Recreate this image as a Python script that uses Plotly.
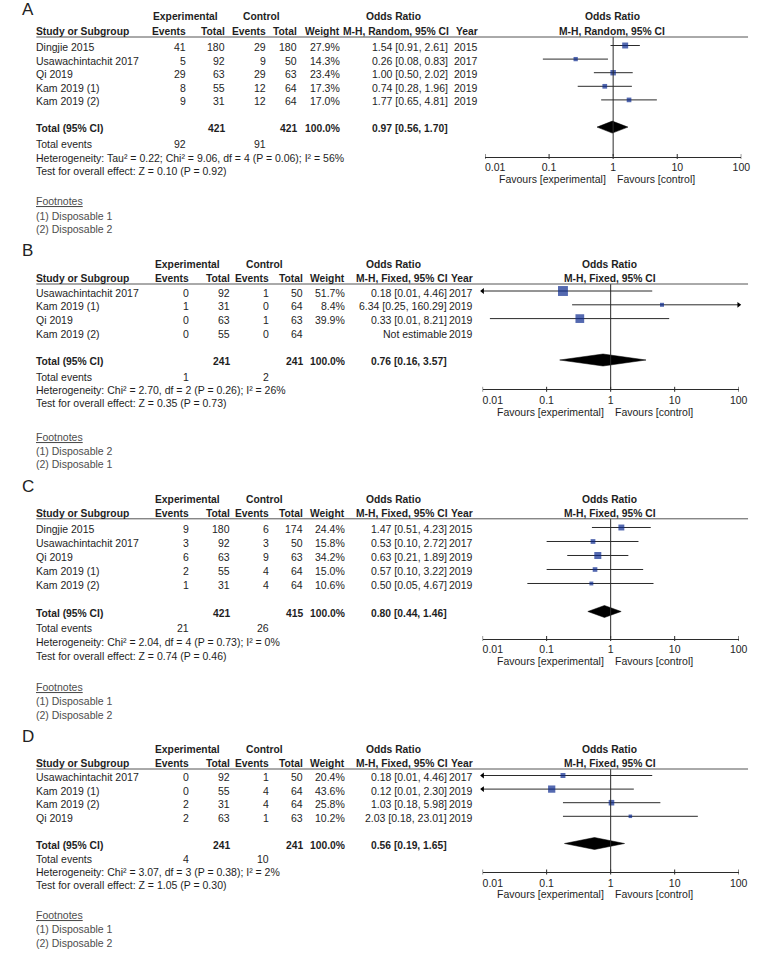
import plotly.graph_objects as go

W, H = 758, 958
FONT = "Liberation Sans, Arial, Helvetica, sans-serif"
TXT = "#1e1e1e"
FOOT = "#4d4d4d"
BLUE = "#0b2a8f"
LINE = "#2b2b2b"

# ---------------- data ----------------
tick_vals = [0.01, 0.1, 1, 10, 100]
tick_text = ["0.01", "0.1", "1", "10", "100"]
favours_left = "Favours [experimental]"
favours_right = "Favours [control]"

# Panel A
studies_A = ["Dingjie 2015", "Usawachintachit 2017", "Qi 2019", "Kam 2019 (1)", "Kam 2019 (2)"]
exp_events_A = [41, 5, 29, 8, 9]
exp_total_A = [180, 92, 63, 55, 31]
ctl_events_A = [29, 9, 29, 12, 12]
ctl_total_A = [180, 50, 63, 64, 64]
weight_A = [27.9, 14.3, 23.4, 17.3, 17.0]
or_A = [1.54, 0.26, 1.00, 0.74, 1.77]
lo_A = [0.91, 0.08, 0.50, 0.28, 0.65]
hi_A = [2.61, 0.83, 2.02, 1.96, 4.81]
year_A = [2015, 2017, 2019, 2019, 2019]
total_A = [421, 421, 100.0, 0.97, 0.56, 1.70, 92, 91]
method_A = "M-H, Random, 95% CI"
het_A = "Heterogeneity: Tau² = 0.22; Chi² = 9.06, df = 4 (P = 0.06); I² = 56%"
test_A = "Test for overall effect: Z = 0.10 (P = 0.92)"
notes_A = ["(1) Disposable 1", "(2) Disposable 2"]

# Panel B
studies_B = ["Usawachintachit 2017", "Kam 2019 (1)", "Qi 2019", "Kam 2019 (2)"]
exp_events_B = [0, 1, 0, 0]
exp_total_B = [92, 31, 63, 55]
ctl_events_B = [1, 0, 1, 0]
ctl_total_B = [50, 64, 63, 64]
weight_B = [51.7, 8.4, 39.9, None]
or_B = [0.18, 6.34, 0.33, None]
lo_B = [0.007, 0.25, 0.013, None]
hi_B = [4.46, 160.29, 8.21, None]
year_B = [2017, 2019, 2019, 2019]
total_B = [241, 241, 100.0, 0.76, 0.16, 3.57, 1, 2]
method_B = "M-H, Fixed, 95% CI"
het_B = "Heterogeneity: Chi² = 2.70, df = 2 (P = 0.26); I² = 26%"
test_B = "Test for overall effect: Z = 0.35 (P = 0.73)"
notes_B = ["(1) Disposable 2", "(2) Disposable 1"]

# Panel C
studies_C = ["Dingjie 2015", "Usawachintachit 2017", "Qi 2019", "Kam 2019 (1)", "Kam 2019 (2)"]
exp_events_C = [9, 3, 6, 2, 1]
exp_total_C = [180, 92, 63, 55, 31]
ctl_events_C = [6, 3, 9, 4, 4]
ctl_total_C = [174, 50, 63, 64, 64]
weight_C = [24.4, 15.8, 34.2, 15.0, 10.6]
or_C = [1.47, 0.53, 0.63, 0.57, 0.50]
lo_C = [0.51, 0.10, 0.21, 0.10, 0.05]
hi_C = [4.23, 2.72, 1.89, 3.22, 4.67]
year_C = [2015, 2017, 2019, 2019, 2019]
total_C = [421, 415, 100.0, 0.80, 0.44, 1.46, 21, 26]
method_C = "M-H, Fixed, 95% CI"
het_C = "Heterogeneity: Chi² = 2.04, df = 4 (P = 0.73); I² = 0%"
test_C = "Test for overall effect: Z = 0.74 (P = 0.46)"
notes_C = ["(1) Disposable 1", "(2) Disposable 2"]

# Panel D
studies_D = ["Usawachintachit 2017", "Kam 2019 (1)", "Kam 2019 (2)", "Qi 2019"]
exp_events_D = [0, 0, 2, 2]
exp_total_D = [92, 55, 31, 63]
ctl_events_D = [1, 4, 4, 1]
ctl_total_D = [50, 64, 64, 63]
weight_D = [20.4, 43.6, 25.8, 10.2]
or_D = [0.18, 0.12, 1.03, 2.03]
lo_D = [0.007, 0.006, 0.18, 0.18]
hi_D = [4.46, 2.30, 5.98, 23.01]
year_D = [2017, 2019, 2019, 2019]
total_D = [241, 241, 100.0, 0.56, 0.19, 1.65, 4, 10]
method_D = "M-H, Fixed, 95% CI"
het_D = "Heterogeneity: Chi² = 3.07, df = 3 (P = 0.38); I² = 2%"
test_D = "Test for overall effect: Z = 1.05 (P = 0.30)"
notes_D = ["(1) Disposable 1", "(2) Disposable 2"]

# ---------------- layout (pixel positions) ----------------
COLS_A = dict(ev_e=172.5, tot_e=213.5, ev_c=256, tot_c=288.5, wt=332.5, orc=445, yr=476.5,
              exp=172, ctl=251, orh=388.5)
COLS_B = dict(ev_e=175.5, tot_e=218.3, ev_c=258.5, tot_c=294.3, wt=338.3, orc=443.5, yr=471.5,
              exp=174, ctl=254, orh=388.5)

panels = [
    dict(letter="A", studies=studies_A, ee=exp_events_A, et=exp_total_A, ce=ctl_events_A, ct=ctl_total_A,
         wt=weight_A, orr=or_A, lo=lo_A, hi=hi_A, yr=year_A, tot=total_A, method=method_A,
         het=het_A, test=test_A, notes=notes_A,
         P=dict(letter=9, h1=17, h2=31.5, hline=37, r0=45.5, s=13.6, te=144.3, het=157.7, test=171,
                fn=201, f1=215.7, f2=229, axis=156.5, fx0=483.5, fx1=750, k=1.13, cols=COLS_A)),
    dict(letter="B", studies=studies_B, ee=exp_events_B, et=exp_total_B, ce=ctl_events_B, ct=ctl_total_B,
         wt=weight_B, orr=or_B, lo=lo_B, hi=hi_B, yr=year_B, tot=total_B, method=method_B,
         het=het_B, test=test_B, notes=notes_B,
         P=dict(letter=250, h1=264, h2=278.3, hline=284, r0=291, s=13.8, te=376.7, het=390, test=403.3,
                fn=436.7, f1=450.7, f2=464, axis=389.3, fx0=481, fx1=747.3, k=1.38, cols=COLS_B)),
    dict(letter="C", studies=studies_C, ee=exp_events_C, et=exp_total_C, ce=ctl_events_C, ct=ctl_total_C,
         wt=weight_C, orr=or_C, lo=lo_C, hi=hi_C, yr=year_C, tot=total_C, method=method_C,
         het=het_C, test=test_C, notes=notes_C,
         P=dict(letter=486, h1=499.3, h2=513.3, hline=518.8, r0=527.5, s=14, te=628.3, het=641.7, test=656,
                fn=687.3, f1=701, f2=714.5, axis=638.5, fx0=481, fx1=747.3, k=1.2, cols=COLS_B)),
    dict(letter="D", studies=studies_D, ee=exp_events_D, et=exp_total_D, ce=ctl_events_D, ct=ctl_total_D,
         wt=weight_D, orr=or_D, lo=lo_D, hi=hi_D, yr=year_D, tot=total_D, method=method_D,
         het=het_D, test=test_D, notes=notes_D,
         P=dict(letter=736, h1=749.5, h2=763.5, hline=769, r0=775.5, s=13.6, te=858.5, het=871.8, test=885.2,
                fn=915, f1=929, f2=942.5, axis=872, fx0=481, fx1=747.3, k=1.1, cols=COLS_B)),
]

XMIN, XMAX = tick_vals[0], tick_vals[-1]
LEFT = 17
TXT_DY = 1.5
HDR = 10.3
NBSP = "\u00a0"
# first tick label is drawn shifted to the right, as in RevMan output
tick_text_drawn = [NBSP * 7 + tick_text[0]] + tick_text[1:]

annotations = []
shapes = []
fig = go.Figure()


def ann(xp, yp, text, anchor="left", size=10.5, color=TXT, bold=False):
    if bold:
        text = "<b>" + text + "</b>"
    annotations.append(dict(
        x=xp / W, y=1 - yp / H, xref="paper", yref="paper", text=text, showarrow=False,
        xanchor=anchor, yanchor="middle", borderpad=0, borderwidth=0,
        font=dict(family=FONT, size=size, color=color)))


def fmt_ci(o, l, h):
    return f"{o:.2f} [{l:.2f}, {h:.2f}]"


layout_axes = {}
for k, pn in enumerate(panels, start=1):
    P = pn["P"]
    c = P["cols"]
    xname = "xaxis" if k == 1 else f"xaxis{k}"
    yname = "yaxis" if k == 1 else f"yaxis{k}"
    xr = "x" if k == 1 else f"x{k}"
    yr_ = "y" if k == 1 else f"y{k}"
    r0, s = P["r0"], P["s"]
    n = len(pn["studies"])
    ypix = lambda i: r0 + i * s

    # ---- axes ----
    layout_axes[xname] = dict(
        type="log", range=[-2, 2], domain=[P["fx0"] / W, P["fx1"] / W], anchor=yr_,
        tickvals=tick_vals, ticktext=tick_text_drawn, ticks="", ticklabelstandoff=1,
        showline=True, linecolor=LINE, linewidth=1, showgrid=False, zeroline=False,
        tickfont=dict(family=FONT, size=10.5, color=TXT), fixedrange=True)
    layout_axes[yname] = dict(
        domain=[1 - P["axis"] / H, 1 - P["hline"] / H],
        range=[(P["axis"] - r0) / s, (P["hline"] - r0) / s], anchor=xr,
        showgrid=False, zeroline=False, showticklabels=False, showline=False, ticks="",
        fixedrange=True)

    # ---- vertical no-effect line ----
    shapes.append(dict(type="line", xref=xr, yref=f"{yr_} domain", x0=1, x1=1, y0=0, y1=1,
                       line=dict(color=LINE, width=1)))
    # ticks crossing the axis line
    for tv in tick_vals:
        shapes.append(dict(type="line", xref=xr, yref="paper", x0=tv, x1=tv,
                           y0=1 - (P["axis"] + 2.5) / H, y1=1 - (P["axis"] - 2.5) / H,
                           line=dict(color=LINE, width=1)))
    # header line
    shapes.append(dict(type="line", xref="paper", yref="paper", x0=LEFT / W, x1=757 / W,
                       y0=1 - P["hline"] / H, y1=1 - P["hline"] / H,
                       line=dict(color="#555555", width=1)))

    # ---- CI lines, squares, arrows ----
    lx, ly = [], []
    sx, sy, ss = [], [], []
    alx, aly, arx, ary = [], [], [], []
    for i in range(n):
        o = pn["orr"][i]
        if o is None:
            continue
        l, h = pn["lo"][i], pn["hi"][i]
        lx += [max(l, XMIN), min(h, XMAX), None]
        ly += [i, i, None]
        sx.append(o)
        sy.append(i)
        ss.append(max(3, P["k"] * pn["wt"][i] ** 0.5))
        if l < XMIN:
            alx.append(XMIN)
            aly.append(i)
        if h > XMAX:
            arx.append(XMAX)
            ary.append(i)
    fig.add_trace(go.Scatter(x=lx, y=ly, mode="lines", line=dict(color=LINE, width=1),
                             xaxis=xr, yaxis=yr_, hoverinfo="skip", showlegend=False))
    fig.add_trace(go.Scatter(x=sx, y=sy, mode="markers",
                             marker=dict(symbol="square", size=ss, color=BLUE, line=dict(width=0)),
                             xaxis=xr, yaxis=yr_, showlegend=False, cliponaxis=False))
    if alx:
        fig.add_trace(go.Scatter(x=alx, y=aly, mode="markers",
                                 marker=dict(symbol="triangle-left", size=5, color="black"),
                                 xaxis=xr, yaxis=yr_, showlegend=False, cliponaxis=False))
    if arx:
        fig.add_trace(go.Scatter(x=arx, y=ary, mode="markers",
                                 marker=dict(symbol="triangle-right", size=5, color="black"),
                                 xaxis=xr, yaxis=yr_, showlegend=False, cliponaxis=False))
    # ---- diamond ----
    t = pn["tot"]
    ti = n + 1
    hh = 6.0 / s
    fig.add_trace(go.Scatter(x=[t[4], t[3], t[5], t[3], t[4]],
                             y=[ti, ti - hh, ti, ti + hh, ti],
                             mode="lines", fill="toself", fillcolor="black",
                             line=dict(color="black", width=0.5),
                             xaxis=xr, yaxis=yr_, showlegend=False, hoverinfo="skip"))

    # ---- text: headers ----
    ann(2, P["letter"], pn["letter"], size=17, color="#222222")
    ann(c["exp"], P["h1"], "Experimental", "center", size=HDR, bold=True)
    ann(c["ctl"], P["h1"], "Control", "center", size=HDR, bold=True)
    ann(c["orh"], P["h1"], "Odds Ratio", "center", size=HDR, bold=True)
    ann(LEFT, P["h2"], "Study or Subgroup", "left", size=HDR, bold=True)
    ann(c["ev_e"], P["h2"], "Events", "right", size=HDR, bold=True)
    ann(c["tot_e"], P["h2"], "Total", "right", size=HDR, bold=True)
    ann(c["ev_c"], P["h2"], "Events", "right", size=HDR, bold=True)
    ann(c["tot_c"], P["h2"], "Total", "right", size=HDR, bold=True)
    ann(c["wt"], P["h2"], "Weight", "right", size=HDR, bold=True)
    ann(c["orc"] + 1.5, P["h2"], pn["method"], "right", size=HDR, bold=True)
    ann(c["yr"], P["h2"], "Year", "right", size=HDR, bold=True)
    xc = P["fx0"] + (P["fx1"] - P["fx0"]) / 2 - 1
    ann(xc, P["h1"], "Odds Ratio", "center", size=HDR, bold=True)
    ann(xc, P["h2"], pn["method"], "center", size=HDR, bold=True)

    # ---- text: study rows ----
    for i in range(n):
        y = ypix(i) + TXT_DY
        ann(LEFT, y, pn["studies"][i], "left")
        ann(c["ev_e"], y, str(pn["ee"][i]), "right")
        ann(c["tot_e"], y, str(pn["et"][i]), "right")
        ann(c["ev_c"], y, str(pn["ce"][i]), "right")
        ann(c["tot_c"], y, str(pn["ct"][i]), "right")
        if pn["wt"][i] is not None:
            ann(c["wt"], y, f"{pn['wt'][i]:.1f}%", "right")
        if pn["orr"][i] is not None:
            ann(c["orc"], y, fmt_ci(pn["orr"][i], pn["lo"][i], pn["hi"][i]), "right")
        else:
            ann(c["orc"], y, "Not estimable", "right")
        ann(c["yr"], y, str(pn["yr"][i]), "right")

    # ---- total rows ----
    y = ypix(ti) + TXT_DY
    ann(LEFT, y, "Total (95% CI)", "left", size=HDR, bold=True)
    ann(c["tot_e"], y, str(t[0]), "right", size=HDR, bold=True)
    ann(c["tot_c"], y, str(t[1]), "right", size=HDR, bold=True)
    ann(c["wt"], y, f"{t[2]:.1f}%", "right", size=HDR, bold=True)
    ann(c["orc"], y, fmt_ci(t[3], t[4], t[5]), "right", size=HDR, bold=True)
    ann(LEFT, P["te"], "Total events", "left")
    ann(c["ev_e"], P["te"], str(t[6]), "right")
    ann(c["ev_c"], P["te"], str(t[7]), "right")
    ann(LEFT, P["het"], pn["het"], "left")
    ann(LEFT, P["test"], pn["test"], "left")
    ann(LEFT, P["fn"], "<u>Footnotes</u>", "left", color=FOOT)
    ann(LEFT, P["f1"], pn["notes"][0], "left", color=FOOT)
    ann(LEFT, P["f2"], pn["notes"][1], "left", color=FOOT)

    # ---- favours ----
    xone = P["fx0"] + (P["fx1"] - P["fx0"]) / 2
    ann(xone - 7, P["axis"] + 22.4, favours_left, "right")
    ann(xone + 4, P["axis"] + 22.4, favours_right, "left")

fig.update_layout(
    width=W, height=H, margin=dict(l=0, r=0, t=0, b=0),
    paper_bgcolor="white", plot_bgcolor="rgba(0,0,0,0)",
    showlegend=False, annotations=annotations, shapes=shapes,
    font=dict(family=FONT, size=10.5, color=TXT),
    **layout_axes)

fig.write_html("out.html", config={"displayModeBar": False, "staticPlot": True},
               post_script="document.body.style.margin='0px';document.body.style.overflow='hidden';")
